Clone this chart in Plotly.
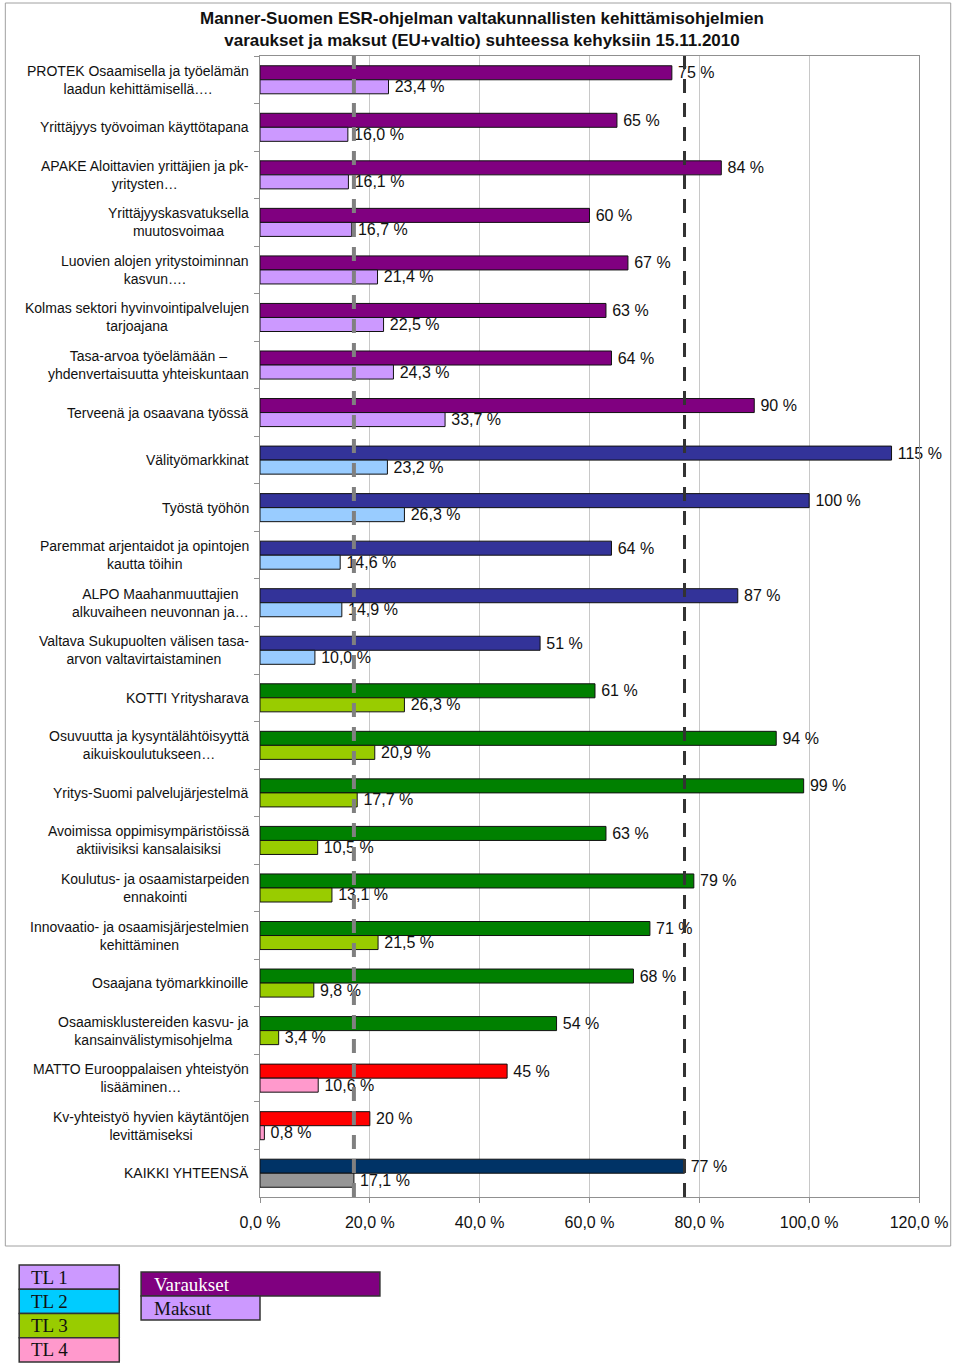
import plotly.graph_objects as go

# ---------------- data ----------------
categories = [
    "PROTEK Osaamisella ja työelämän<br>laadun kehittämisellä….",
    "Yrittäjyys työvoiman käyttötapana",
    "APAKE Aloittavien yrittäjien ja pk-<br>yritysten…",
    "Yrittäjyyskasvatuksella<br>muutosvoimaa",
    "Luovien alojen yritystoiminnan<br>kasvun….",
    "Kolmas sektori hyvinvointipalvelujen<br>tarjoajana",
    "Tasa-arvoa työelämään –<br>yhdenvertaisuutta yhteiskuntaan",
    "Terveenä ja osaavana työssä",
    "Välityömarkkinat",
    "Työstä työhön",
    "Paremmat arjentaidot ja opintojen<br>kautta töihin",
    "ALPO Maahanmuuttajien<br>alkuvaiheen neuvonnan ja…",
    "Valtava Sukupuolten välisen tasa-<br>arvon valtavirtaistaminen",
    "KOTTI Yritysharava",
    "Osuvuutta ja kysyntälähtöisyyttä<br>aikuiskoulutukseen…",
    "Yritys-Suomi palvelujärjestelmä",
    "Avoimissa oppimisympäristöissä<br>aktiivisiksi kansalaisiksi",
    "Koulutus- ja osaamistarpeiden<br>ennakointi",
    "Innovaatio- ja osaamisjärjestelmien<br>kehittäminen",
    "Osaajana työmarkkinoille",
    "Osaamisklustereiden kasvu- ja<br>kansainvälistymisohjelma",
    "MATTO Eurooppalaisen yhteistyön<br>lisääminen…",
    "Kv-yhteistyö hyvien käytäntöjen<br>levittämiseksi",
    "KAIKKI YHTEENSÄ",
]
varaukset = [75, 65, 84, 60, 67, 63, 64, 90, 115, 100, 64, 87, 51,
             61, 94, 99, 63, 79, 71, 68, 54, 45, 20, 77.3]
maksut = [23.4, 16.0, 16.1, 16.7, 21.4, 22.5, 24.3, 33.7, 23.2, 26.3, 14.6, 14.9, 10.0,
          26.3, 20.9, 17.7, 10.5, 13.1, 21.5, 9.8, 3.4, 10.6, 0.8, 17.1]
groups = ["TL1"] * 8 + ["TL2"] * 5 + ["TL3"] * 8 + ["TL4"] * 2 + ["ALL"]

x_tickvals = [0, 20, 40, 60, 80, 100, 120]
x_ticklabels = ["0,0 %", "20,0 %", "40,0 %", "60,0 %", "80,0 %", "100,0 %", "120,0 %"]

legend_groups = ["TL 1", "TL 2", "TL 3", "TL 4"]
legend_series = ["Varaukset", "Maksut"]

title_lines = ["Manner-Suomen ESR-ohjelman valtakunnallisten kehittämisohjelmien",
               "varaukset ja maksut (EU+valtio) suhteessa kehyksiin 15.11.2010"]

# ---------------- styles ----------------
var_colors = {"TL1": "#800080", "TL2": "#333399", "TL3": "#008000", "TL4": "#FF0000", "ALL": "#003366"}
mak_colors = {"TL1": "#CC99FF", "TL2": "#99CCFF", "TL3": "#99CC00", "TL4": "#FF99CC", "ALL": "#969696"}
legend_group_colors = ["#CC99FF", "#00CCFF", "#99CC00", "#FF99CC"]

FONT = "Liberation Sans, Arial, sans-serif"
SERIF = "Liberation Serif, Times New Roman, serif"

W, H = 960, 1369
L, R, T, B = 260, 35, 56, 172
PW, PH = W - L - R, H - T - B
PAD = "\u2009"


def px(xp):
    return (xp - L) / PW


def py(yp):
    return (H - B - yp) / PH


fig = go.Figure()

fig.add_trace(go.Bar(
    name="Varaukset", orientation="h", y=categories, x=varaukset,
    marker=dict(color=[var_colors[g] for g in groups], line=dict(color="#111111", width=1)),
    text=[PAD + f"{v:.0f} %" for v in varaukset], textposition="outside",
    textfont=dict(family=FONT, size=16, color="#111111"),
    constraintext="none", cliponaxis=False, showlegend=False,
))
fig.add_trace(go.Bar(
    name="Maksut", orientation="h", y=categories, x=maksut,
    marker=dict(color=[mak_colors[g] for g in groups], line=dict(color="#111111", width=1)),
    text=[PAD + f"{v:.1f} %".replace(".", ",") for v in maksut], textposition="outside",
    textfont=dict(family=FONT, size=16, color="#111111"),
    constraintext="none", cliponaxis=False, showlegend=False,
))

shapes = []
# reference lines at totals
shapes.append(dict(type="line", xref="x", yref="paper", x0=maksut[-1], x1=maksut[-1], y0=0, y1=1,
                   line=dict(color="#808080", width=4, dash="14px,10px"), layer="above"))
shapes.append(dict(type="line", xref="x", yref="paper", x0=varaukset[-1], x1=varaukset[-1], y0=0, y1=1,
                   line=dict(color="#333333", width=3, dash="14px,10px"), layer="above"))
# outer chart frame
shapes.append(dict(type="rect", xref="paper", yref="paper", x0=px(3), x1=px(957), y0=py(1246), y1=py(3),
                   line=dict(color="#A0A0A0", width=1), fillcolor="rgba(0,0,0,0)", layer="below"))

annotations = []
# title
annotations.append(dict(x=px(484), y=py(29), xref="paper", yref="paper",
                        text="<b>" + "<br>".join(title_lines) + "</b>", showarrow=False,
                        xanchor="center", yanchor="middle", align="center",
                        font=dict(family=FONT, size=17, color="#111111")))
# category labels (center aligned, right anchored)
for c in categories:
    annotations.append(dict(x=0, xref="paper", y=c, yref="y", text=c, showarrow=False,
                            xanchor="right", align="center", xshift=-9,
                            font=dict(family=FONT, size=14, color="#111111")))

# custom legend
row_h = 24.25
for i, (lab, col) in enumerate(zip(legend_groups, legend_group_colors)):
    y0 = 1265 + i * row_h
    shapes.append(dict(type="rect", xref="paper", yref="paper", x0=px(17), x1=px(118),
                       y0=py(y0 + row_h), y1=py(y0), fillcolor=col,
                       line=dict(color="#333333", width=1.5)))
    annotations.append(dict(x=px(27), y=py(y0 + row_h / 2), xref="paper", yref="paper", text=lab,
                            showarrow=False, xanchor="left", yanchor="middle",
                            font=dict(family=SERIF, size=19, color="#111111")))

shapes.append(dict(type="rect", xref="paper", yref="paper", x0=px(140), x1=px(381),
                   y0=py(1296), y1=py(1272), fillcolor=var_colors["TL1"], line=dict(color="#333333", width=1.5)))
shapes.append(dict(type="rect", xref="paper", yref="paper", x0=px(140), x1=px(260),
                   y0=py(1320), y1=py(1296), fillcolor=mak_colors["TL1"], line=dict(color="#333333", width=1.5)))
annotations.append(dict(x=px(151), y=py(1284), xref="paper", yref="paper", text=legend_series[0],
                        showarrow=False, xanchor="left", yanchor="middle",
                        font=dict(family=SERIF, size=19, color="#FFFFFF")))
annotations.append(dict(x=px(151), y=py(1308), xref="paper", yref="paper", text=legend_series[1],
                        showarrow=False, xanchor="left", yanchor="middle",
                        font=dict(family=SERIF, size=19, color="#111111")))

fig.update_layout(
    width=W, height=H,
    margin=dict(l=L, r=R, t=T, b=B),
    paper_bgcolor="white", plot_bgcolor="white",
    barmode="group", bargap=0.41, bargroupgap=0,
    font=dict(family=FONT, color="#111111"),
    shapes=shapes, annotations=annotations,
)

fig.update_xaxes(
    range=[0, 120], tickvals=x_tickvals, ticktext=x_ticklabels,
    showgrid=True, gridcolor="#C8C8C8", gridwidth=1,
    showline=True, linecolor="#909090", linewidth=1, mirror=True,
    ticks="outside", ticklen=5, tickcolor="#909090", ticklabelstandoff=6,
    tickfont=dict(family=FONT, size=16, color="#111111"), zeroline=False,
)
fig.update_yaxes(
    categoryorder="array", categoryarray=categories, autorange="reversed",
    showticklabels=False, tickson="boundaries", ticks="outside", ticklen=5, tickcolor="#909090",
    showline=True, linecolor="#909090", linewidth=1, mirror=True, showgrid=False,
)

fig.write_html("out.html", config={"displayModeBar": False},
               post_script="document.body.style.margin='0';document.body.style.overflow='hidden';")
